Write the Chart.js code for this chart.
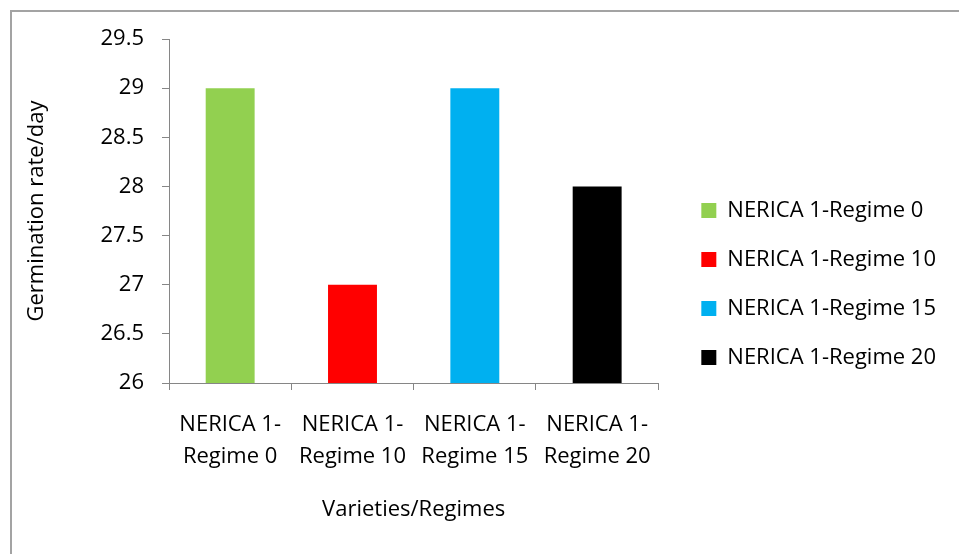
<!DOCTYPE html>
<html>
<head>
<meta charset="utf-8">
<script src="https://cdn.jsdelivr.net/npm/chart.js@4"></script>
<style>
  html, body { margin: 0; padding: 0; background: #fff; overflow: hidden; }
  #frame { position: absolute; left: 10px; top: 10px; width: 1200px; height: 800px;
           border-left: 2px solid #a3a3a3; border-top: 2px solid #a3a3a3; }
  #wrap { position: absolute; left: 0; top: 0; width: 959px; height: 554px; }
</style>
</head>
<body>
<div id="frame"></div>
<div id="wrap"><canvas id="chart"></canvas></div>
<script>
// germination rate per regime
const regimes = ['NERICA 1-Regime 0', 'NERICA 1-Regime 10', 'NERICA 1-Regime 15', 'NERICA 1-Regime 20'];
const germinationRate = [29, 27, 29, 28];
const barColors = ['#92D050', '#FF0000', '#00B0F0', '#000000'];
const yMin = 26;
const yMax = 29.5;
const yStep = 0.5;

const FONT = "'Open Sans', sans-serif";
const AXIS_GREY = '#868686';

new Chart(document.getElementById('chart'), {
  type: 'bar',
  data: {
    labels: regimes,
    datasets: [{
      data: germinationRate,
      backgroundColor: barColors,
      borderWidth: 0,
      categoryPercentage: 1,
      barPercentage: 0.4,
    }],
  },
  options: {
    responsive: true,
    maintainAspectRatio: false,
    animation: false,
    layout: { padding: { left: 10, top: 39, right: 13, bottom: 25 } },
    plugins: {
      tooltip: { enabled: false },
      legend: {
        position: 'right',
        maxWidth: 400,
        labels: {
          color: '#000',
          font: { family: FONT, size: 22 },
          boxWidth: 15,
          boxHeight: 15,
          padding: 27,
          // one entry per bar, like Excel's "vary colours by point"
          generateLabels: chart => regimes.map((r, i) => ({
            text: r,
            fillStyle: barColors[i],
            strokeStyle: barColors[i],
            lineWidth: 0,
            index: i,
          })),
        },
      },
    },
    scales: {
      x: {
        grid: { drawOnChartArea: false, drawTicks: true, tickLength: 7, color: AXIS_GREY, offset: true },
        border: { color: AXIS_GREY, width: 1 },
        ticks: {
          color: '#000',
          font: { family: FONT, size: 22, lineHeight: 32 / 22 },
          padding: 19,
          maxRotation: 0,
          autoSkip: false,
          callback: (v, i) => regimes[i].split(/(?<=1-)/),
        },
        title: {
          display: true,
          text: 'Varieties/Regimes',
          color: '#000',
          font: { family: FONT, size: 22 },
          padding: { top: 0, bottom: 6 },
        },
        afterFit: s => { s.height = 146; },
      },
      y: {
        min: yMin,
        max: yMax,
        grid: { drawOnChartArea: false, drawTicks: true, tickLength: 7, color: AXIS_GREY },
        border: { color: AXIS_GREY, width: 1 },
        ticks: {
          stepSize: yStep,
          color: '#000',
          font: { family: FONT, size: 22 },
          padding: 18,
          callback: v => String(v),
        },
        title: {
          display: true,
          text: 'Germination rate/day',
          color: '#000',
          font: { family: FONT, size: 22 },
          padding: { top: 14, bottom: 0 },
        },
        afterFit: s => { s.width = 159; },
      },
      // empty spacer between plot and legend
      gap: {
        position: 'right',
        display: true,
        grid: { display: false },
        border: { display: false },
        ticks: { display: false },
        afterFit: s => { s.width = 16; },
      },
    },
  },
});
</script>
</body>
</html>
